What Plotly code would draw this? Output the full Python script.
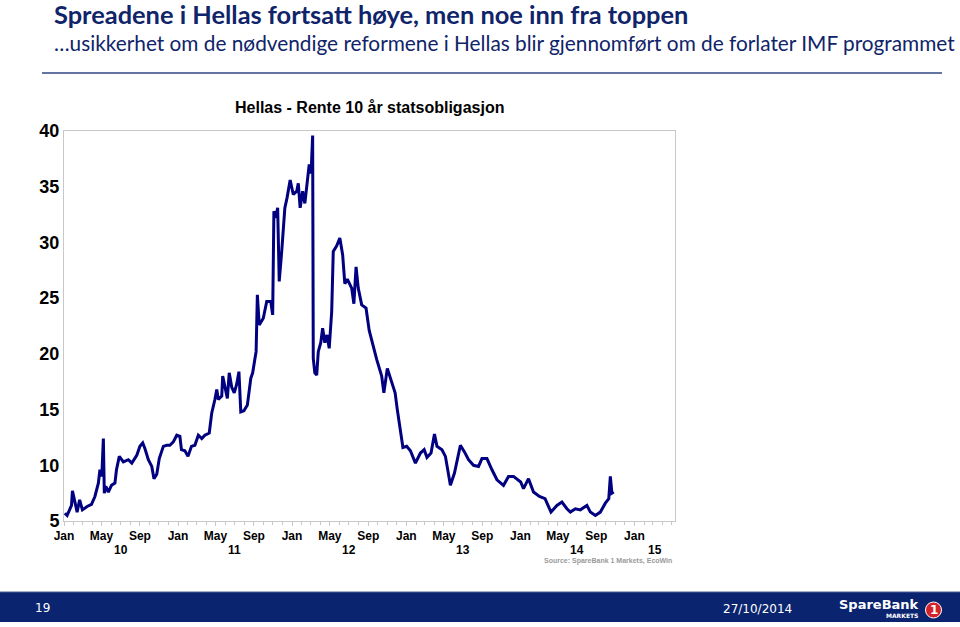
import plotly.graph_objects as go
from datetime import date, timedelta

# ---------------- data ----------------
dates = [
    "2010-01-04", "2010-01-11", "2010-01-25", "2010-01-28", "2010-02-05", "2010-02-12",
    "2010-02-20", "2010-03-01", "2010-03-16", "2010-03-30", "2010-04-10", "2010-04-21",
    "2010-04-26", "2010-05-02", "2010-05-07", "2010-05-10", "2010-05-15", "2010-05-23",
    "2010-06-02", "2010-06-13", "2010-06-18", "2010-06-27", "2010-07-10", "2010-07-26",
    "2010-08-06", "2010-08-22", "2010-09-01", "2010-09-10", "2010-09-17", "2010-09-28",
    "2010-10-09", "2010-10-16", "2010-10-25", "2010-11-02", "2010-11-15", "2010-11-26",
    "2010-12-06", "2010-12-17", "2010-12-28", "2011-01-07", "2011-01-12", "2011-01-23",
    "2011-02-02", "2011-02-13", "2011-02-24", "2011-03-07", "2011-03-18", "2011-03-28",
    "2011-04-11", "2011-04-19", "2011-04-29", "2011-05-05", "2011-05-10", "2011-05-21",
    "2011-05-24", "2011-06-01", "2011-06-08", "2011-06-14", "2011-06-22", "2011-06-30",
    "2011-07-08", "2011-07-15", "2011-07-21", "2011-07-31", "2011-08-11", "2011-08-22",
    "2011-08-28", "2011-09-05", "2011-09-08", "2011-09-12", "2011-09-18", "2011-10-01",
    "2011-10-12", "2011-10-25", "2011-10-31", "2011-11-04", "2011-11-10", "2011-11-16",
    "2011-11-21", "2011-11-29", "2011-12-09", "2011-12-16", "2011-12-26", "2012-01-05",
    "2012-01-16", "2012-01-21", "2012-01-27", "2012-02-04", "2012-02-11", "2012-02-19",
    "2012-02-25", "2012-03-02", "2012-03-07", "2012-03-09", "2012-03-14", "2012-03-20",
    "2012-03-25", "2012-04-02", "2012-04-08", "2012-04-15", "2012-04-22", "2012-04-29",
    "2012-05-07", "2012-05-12", "2012-05-23", "2012-06-02", "2012-06-11", "2012-06-18",
    "2012-06-26", "2012-07-10", "2012-07-17", "2012-07-24", "2012-07-31", "2012-08-11",
    "2012-08-25", "2012-09-04", "2012-09-17", "2012-09-28", "2012-10-14", "2012-10-21",
    "2012-11-01", "2012-11-12", "2012-11-26", "2012-12-03", "2012-12-12", "2012-12-21",
    "2013-01-02", "2013-01-14", "2013-01-30", "2013-02-15", "2013-02-27", "2013-03-08",
    "2013-03-21", "2013-04-01", "2013-04-09", "2013-04-25", "2013-05-06", "2013-05-22",
    "2013-06-04", "2013-06-12", "2013-06-23", "2013-07-06", "2013-07-19", "2013-08-04",
    "2013-08-20", "2013-08-31", "2013-09-16", "2013-10-02", "2013-10-18", "2013-11-08",
    "2013-11-24", "2013-12-10", "2014-01-02", "2014-01-11", "2014-01-27", "2014-02-12",
    "2014-03-03", "2014-03-21", "2014-04-09", "2014-04-28", "2014-05-14", "2014-05-30",
    "2014-06-10", "2014-06-26", "2014-07-12", "2014-08-02", "2014-08-13", "2014-08-29",
    "2014-09-14", "2014-09-30", "2014-10-11", "2014-10-16", "2014-10-21", "2014-10-27",
]
yield_10y = [
    5.7, 5.5, 6.4, 7.7, 6.7, 5.8,
    6.9, 6.0, 6.3, 6.5, 7.2, 8.4,
    9.6, 9.0, 12.4, 7.5, 8.1, 7.6,
    8.2, 8.4, 9.6, 10.8, 10.3, 10.5,
    10.2, 10.9, 11.7, 12.0, 11.5, 10.5,
    9.9, 8.8, 9.2, 10.6, 11.7, 11.8,
    11.8, 12.1, 12.7, 12.6, 11.4, 11.3,
    10.8, 11.7, 11.8, 12.7, 12.4, 12.7,
    12.9, 14.7, 15.9, 16.8, 15.9, 16.2,
    18.0, 16.8, 16.0, 18.3, 17.0, 16.5,
    17.3, 18.4, 14.8, 14.9, 15.4, 17.8,
    18.3, 19.7, 20.2, 25.3, 22.6, 23.2,
    24.7, 24.7, 23.5, 32.8, 32.2, 33.1,
    26.5, 29.2, 33.1, 34.0, 35.6, 34.3,
    34.6, 35.3, 33.1, 34.6, 33.5, 35.5,
    37.0, 36.2, 39.6, 19.6, 18.3, 18.1,
    20.2, 21.0, 22.3, 21.0, 21.7, 20.5,
    23.8, 29.2, 29.7, 30.4, 28.9, 26.3,
    26.7, 25.9, 24.5, 27.8, 25.9, 24.4,
    24.1, 22.1, 20.6, 19.5, 18.0, 16.5,
    18.7, 17.7, 16.5, 15.0, 13.2, 11.6,
    11.7, 11.3, 10.2, 11.1, 11.4, 10.7,
    11.1, 12.8, 11.7, 11.4, 10.8, 8.2,
    9.3, 10.5, 11.8, 11.2, 10.5, 10.0,
    9.9, 10.6, 10.6, 9.6, 8.7, 8.2,
    9.0, 9.0, 8.5, 7.9, 8.8, 7.6,
    7.2, 7.0, 5.8, 6.4, 6.7, 6.1,
    5.8, 6.1, 6.0, 6.4, 5.8, 5.5,
    5.8, 6.6, 7.0, 9.0, 7.5, 7.6,
]

y_ticks = [5, 10, 15, 20, 25, 30, 35, 40]
month_names = {1: "Jan", 5: "May", 9: "Sep"}
years = [2010, 2011, 2012, 2013, 2014, 2015]
year_labels = ["10", "11", "12", "13", "14", "15"]
last_tick = "2015-01-01"

x_start = "2010-01-01"
x_end = "2015-05-11"

title_text = "Spreadene i Hellas fortsatt høye, men noe inn fra toppen"
subtitle_text = "…usikkerhet om de nødvendige reformene i Hellas blir gjennomført om de forlater IMF programmet"
chart_title = "Hellas - Rente 10 år statsobligasjon"
source_text = "Source: SpareBank 1 Markets, EcoWin"
page_no = "19"
page_date = "27/10/2014"

# ---------------- layout geometry (pixels) ----------------
W, H = 960, 627
PL, PR, PT, PB = 64, 675, 131, 521


def px(x):
    return (x - PL) / (PR - PL)


def py(y):
    return (PB - y) / (PB - PT)


NAVY = "#0f2469"
LINE = "#000080"
GRID = "#c8c8c8"

# tick values / labels
tickvals, ticktext = [], []
for yr in years:
    for m, name in month_names.items():
        d = f"{yr}-{m:02d}-01"
        if d <= last_tick:
            tickvals.append(d)
            ticktext.append(name)

fig = go.Figure()
fig.add_trace(go.Scatter(
    x=dates, y=yield_10y, mode="lines",
    line=dict(color=LINE, width=3),
    hoverinfo="x+y", showlegend=False,
))

annotations = []
shapes = []

# year labels centred under each (visible) year
end_d = date.fromisoformat(x_end)
for yr, lab in zip(years, year_labels):
    a = date(yr, 1, 1)
    b = min(date(yr + 1, 1, 1), end_d)
    mid = a + timedelta(days=(b - a).days / 2)
    annotations.append(dict(
        x=mid.isoformat(), xref="x", y=py(549.5), yref="paper",
        text=f"<b>{lab}</b>", showarrow=False,
        font=dict(family="Arial, Liberation Sans", size=12, color="#000"),
        xanchor="center", yanchor="middle",
    ))

# headings
annotations += [
    dict(x=px(52), y=py(14), xref="paper", yref="paper", text=f"<b>{title_text}</b>",
         showarrow=False, xanchor="left", yanchor="middle",
         font=dict(family="Lato", size=25.4, color=NAVY)),
    dict(x=px(52), y=py(43), xref="paper", yref="paper", text=subtitle_text,
         showarrow=False, xanchor="left", yanchor="middle",
         font=dict(family="Lato", size=20.8, color=NAVY)),
    dict(x=px(369), y=py(107), xref="paper", yref="paper", text=f"<b>{chart_title}</b>",
         showarrow=False, xanchor="center", yanchor="middle",
         font=dict(family="Arial, Liberation Sans", size=16, color="#000")),
    dict(x=px(674), y=py(561), xref="paper", yref="paper", text=f"<b>{source_text}</b>",
         showarrow=False, xanchor="right", yanchor="middle",
         font=dict(family="Arial, Liberation Sans", size=7, color="#9a9a9a")),
    dict(x=px(42), y=py(608), xref="paper", yref="paper", text=page_no,
         showarrow=False, xanchor="center", yanchor="middle",
         font=dict(family="DejaVu Sans", size=12, color="#ffffff")),
    dict(x=px(757), y=py(609), xref="paper", yref="paper", text=page_date,
         showarrow=False, xanchor="center", yanchor="middle",
         font=dict(family="DejaVu Sans", size=12, color="#ffffff")),
    dict(x=px(921), y=py(604), xref="paper", yref="paper", text="<b>SpareBank</b>",
         showarrow=False, xanchor="right", yanchor="middle",
         font=dict(family="DejaVu Sans", size=13, color="#ffffff")),
    dict(x=px(920), y=py(615), xref="paper", yref="paper", text="<b>MARKETS</b>",
         showarrow=False, xanchor="right", yanchor="middle",
         font=dict(family="DejaVu Sans", size=6, color="#ffffff")),
    dict(x=px(933.5), y=py(610), xref="paper", yref="paper", text="<b>1</b>",
         showarrow=False, xanchor="center", yanchor="middle",
         font=dict(family="DejaVu Sans", size=12, color="#ffffff")),
]

shapes += [
    # rule under headings
    dict(type="line", xref="paper", yref="paper", x0=px(42), x1=px(942), y0=py(73), y1=py(73),
         line=dict(color="#6475a3", width=2)),
    # footer band
    dict(type="rect", xref="paper", yref="paper", x0=px(0), x1=px(960), y0=py(592), y1=py(622),
         line=dict(width=0), fillcolor="#0a2470", layer="below"),
    dict(type="line", xref="paper", yref="paper", x0=px(0), x1=px(960), y0=py(592), y1=py(592),
         line=dict(color="#4a5f9a", width=1)),
    # logo circle
    dict(type="circle", xref="paper", yref="paper", x0=px(925.5), x1=px(941.5),
         y0=py(618), y1=py(602), line=dict(color="#ffffff", width=1), fillcolor="#d2232a"),
]

fig.update_layout(
    width=W, height=H,
    margin=dict(l=PL, r=W - PR, t=PT, b=H - PB, pad=0),
    paper_bgcolor="#ffffff", plot_bgcolor="#ffffff",
    showlegend=False,
    annotations=annotations,
    shapes=shapes,
    xaxis=dict(
        type="date", range=[x_start, x_end],
        tickvals=tickvals, ticktext=ticktext,
        tickfont=dict(family="Arial, Liberation Sans", size=12, color="#000", weight="bold"),
        ticks="outside", ticklen=4, tickcolor=GRID, tickwidth=1,
        minor=dict(dtick="M1", ticks="outside", ticklen=3, tickcolor=GRID, showgrid=False),
        showgrid=False, zeroline=False,
        showline=True, linecolor=GRID, linewidth=1, mirror=True,
    ),
    yaxis=dict(
        range=[5, 40], tickvals=y_ticks,
        tickfont=dict(family="Arial, Liberation Sans", size=18, color="#000", weight="bold"),
        ticks="", showgrid=False, zeroline=False,
        showline=True, linecolor=GRID, linewidth=1, mirror=True,
    ),
)

fig.write_html("out.html")
